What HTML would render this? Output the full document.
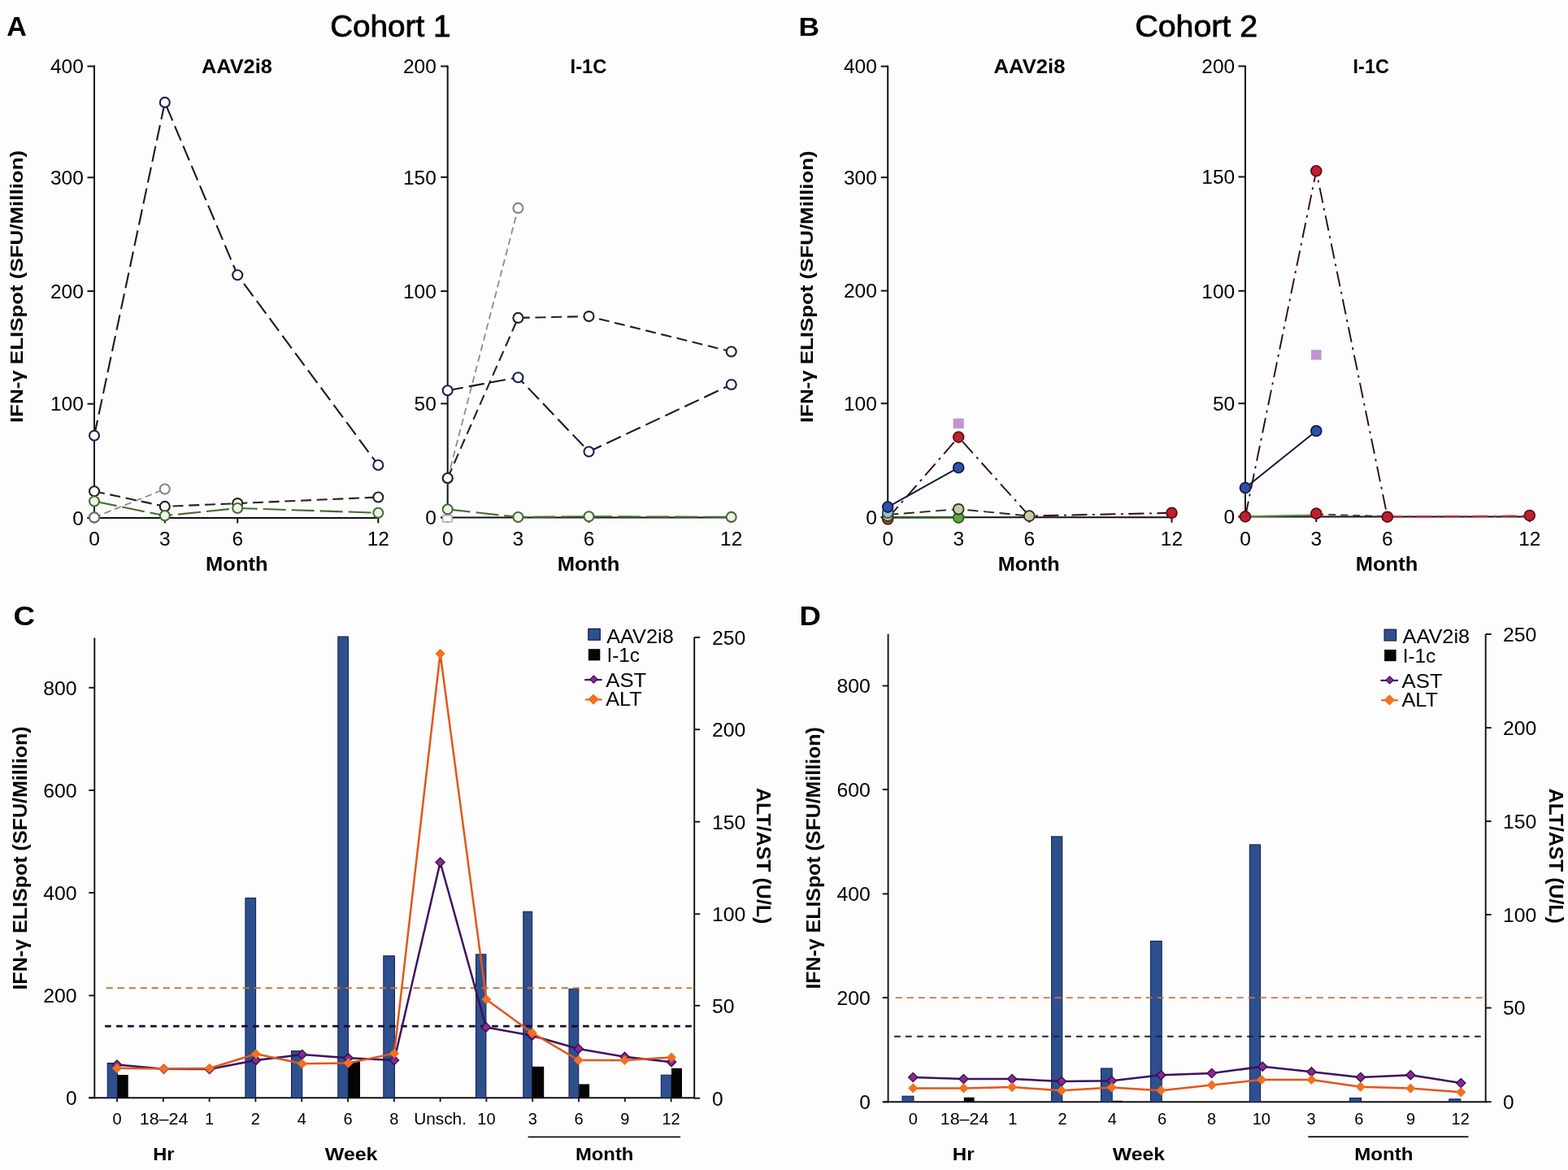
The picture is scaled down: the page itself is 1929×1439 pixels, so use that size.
<!DOCTYPE html>
<html><head><meta charset="utf-8"><title>Figure</title>
<style>
html,body{margin:0;padding:0;background:#fdfdfd;}
body{width:1929px;height:1439px;overflow:hidden;}
svg{display:block;}
svg text{font-family:'Liberation Sans', Arial, Helvetica, sans-serif;}
</style></head>
<body>
<svg width="1929" height="1439" viewBox="0 0 1929 1439">
<rect x="0" y="0" width="1929" height="1439" fill="#fdfdfd"/>
<text x="8.2" y="44" font-size="33" font-weight="bold" textLength="24.6" lengthAdjust="spacingAndGlyphs" fill="#000">A</text>
<text x="406.2" y="44.6" font-size="36.5" textLength="148.2" lengthAdjust="spacingAndGlyphs" fill="#000" stroke="#000" stroke-width="0.8">Cohort 1</text>
<text x="982.4" y="43.6" font-size="32" font-weight="bold" textLength="25.6" lengthAdjust="spacingAndGlyphs" fill="#000">B</text>
<text x="1396.4" y="44.6" font-size="36.5" textLength="150.6" lengthAdjust="spacingAndGlyphs" fill="#000" stroke="#000" stroke-width="0.8">Cohort 2</text>
<text x="16.4" y="768.9" font-size="33" font-weight="bold" textLength="26.6" lengthAdjust="spacingAndGlyphs" fill="#000">C</text>
<text x="983.4" y="768.9" font-size="33" font-weight="bold" textLength="26.4" lengthAdjust="spacingAndGlyphs" fill="#000">D</text>
<line x1="116" y1="80.5" x2="116" y2="637.9" stroke="#111" stroke-width="2" stroke-linecap="butt"/>
<line x1="107.5" y1="636.9" x2="116" y2="636.9" stroke="#111" stroke-width="2" stroke-linecap="butt"/>
<text x="102.8" y="645.65" font-size="24.5" text-anchor="end" fill="#000">0</text>
<line x1="107.5" y1="496.7" x2="116" y2="496.7" stroke="#111" stroke-width="2" stroke-linecap="butt"/>
<text x="102.8" y="505.45" font-size="24.5" text-anchor="end" fill="#000">100</text>
<line x1="107.5" y1="358.1" x2="116" y2="358.1" stroke="#111" stroke-width="2" stroke-linecap="butt"/>
<text x="102.8" y="366.85" font-size="24.5" text-anchor="end" fill="#000">200</text>
<line x1="107.5" y1="218.3" x2="116" y2="218.3" stroke="#111" stroke-width="2" stroke-linecap="butt"/>
<text x="102.8" y="227.05" font-size="24.5" text-anchor="end" fill="#000">300</text>
<line x1="107.5" y1="81.5" x2="116" y2="81.5" stroke="#111" stroke-width="2" stroke-linecap="butt"/>
<text x="102.8" y="90.25" font-size="24.5" text-anchor="end" fill="#000">400</text>
<line x1="107.5" y1="636.9" x2="466.3" y2="636.9" stroke="#111" stroke-width="2" stroke-linecap="butt"/>
<line x1="116" y1="636.9" x2="116" y2="643.4" stroke="#111" stroke-width="2" stroke-linecap="butt"/>
<line x1="202.8" y1="636.9" x2="202.8" y2="643.4" stroke="#111" stroke-width="2" stroke-linecap="butt"/>
<line x1="292.2" y1="636.9" x2="292.2" y2="643.4" stroke="#111" stroke-width="2" stroke-linecap="butt"/>
<line x1="465.3" y1="636.9" x2="465.3" y2="643.4" stroke="#111" stroke-width="2" stroke-linecap="butt"/>
<text x="116" y="670.6" font-size="24.5" text-anchor="middle" fill="#000">0</text>
<text x="202.8" y="670.6" font-size="24.5" text-anchor="middle" fill="#000">3</text>
<text x="292.2" y="670.6" font-size="24.5" text-anchor="middle" fill="#000">6</text>
<text x="465.3" y="670.6" font-size="24.5" text-anchor="middle" fill="#000">12</text>
<text x="291.3" y="702" font-size="23" font-weight="bold" text-anchor="middle" textLength="76.4" lengthAdjust="spacingAndGlyphs" fill="#000">Month</text>
<text x="291.35" y="90" font-size="23.5" font-weight="bold" text-anchor="middle" textLength="86.9" lengthAdjust="spacingAndGlyphs" fill="#000">AAV2i8</text>
<line x1="550.7" y1="80.5" x2="550.7" y2="637.5" stroke="#111" stroke-width="2" stroke-linecap="butt"/>
<line x1="542.2" y1="636.5" x2="550.7" y2="636.5" stroke="#111" stroke-width="2" stroke-linecap="butt"/>
<text x="536.8" y="645.25" font-size="24.5" text-anchor="end" fill="#000">0</text>
<line x1="542.2" y1="496.4" x2="550.7" y2="496.4" stroke="#111" stroke-width="2" stroke-linecap="butt"/>
<text x="536.8" y="505.15" font-size="24.5" text-anchor="end" fill="#000">50</text>
<line x1="542.2" y1="358.1" x2="550.7" y2="358.1" stroke="#111" stroke-width="2" stroke-linecap="butt"/>
<text x="536.8" y="366.85" font-size="24.5" text-anchor="end" fill="#000">100</text>
<line x1="542.2" y1="217.9" x2="550.7" y2="217.9" stroke="#111" stroke-width="2" stroke-linecap="butt"/>
<text x="536.8" y="226.65" font-size="24.5" text-anchor="end" fill="#000">150</text>
<line x1="542.2" y1="81.5" x2="550.7" y2="81.5" stroke="#111" stroke-width="2" stroke-linecap="butt"/>
<text x="536.8" y="90.25" font-size="24.5" text-anchor="end" fill="#000">200</text>
<line x1="542.2" y1="636.5" x2="900.7" y2="636.5" stroke="#111" stroke-width="2" stroke-linecap="butt"/>
<line x1="550.7" y1="636.5" x2="550.7" y2="643" stroke="#111" stroke-width="2" stroke-linecap="butt"/>
<line x1="637.4" y1="636.5" x2="637.4" y2="643" stroke="#111" stroke-width="2" stroke-linecap="butt"/>
<line x1="724.5" y1="636.5" x2="724.5" y2="643" stroke="#111" stroke-width="2" stroke-linecap="butt"/>
<line x1="899.7" y1="636.5" x2="899.7" y2="643" stroke="#111" stroke-width="2" stroke-linecap="butt"/>
<text x="550.7" y="670.6" font-size="24.5" text-anchor="middle" fill="#000">0</text>
<text x="637.4" y="670.6" font-size="24.5" text-anchor="middle" fill="#000">3</text>
<text x="724.5" y="670.6" font-size="24.5" text-anchor="middle" fill="#000">6</text>
<text x="899.7" y="670.6" font-size="24.5" text-anchor="middle" fill="#000">12</text>
<text x="724.05" y="702" font-size="23" font-weight="bold" text-anchor="middle" textLength="76.7" lengthAdjust="spacingAndGlyphs" fill="#000">Month</text>
<text x="724" y="90" font-size="23.5" font-weight="bold" text-anchor="middle" textLength="44.8" lengthAdjust="spacingAndGlyphs" fill="#000">I-1C</text>
<line x1="1092.2" y1="80.6" x2="1092.2" y2="637.2" stroke="#111" stroke-width="2" stroke-linecap="butt"/>
<line x1="1083.7" y1="636.2" x2="1092.2" y2="636.2" stroke="#111" stroke-width="2" stroke-linecap="butt"/>
<text x="1078.8" y="644.95" font-size="24.5" text-anchor="end" fill="#000">0</text>
<line x1="1083.7" y1="496.2" x2="1092.2" y2="496.2" stroke="#111" stroke-width="2" stroke-linecap="butt"/>
<text x="1078.8" y="504.95" font-size="24.5" text-anchor="end" fill="#000">100</text>
<line x1="1083.7" y1="357.6" x2="1092.2" y2="357.6" stroke="#111" stroke-width="2" stroke-linecap="butt"/>
<text x="1078.8" y="366.35" font-size="24.5" text-anchor="end" fill="#000">200</text>
<line x1="1083.7" y1="218.2" x2="1092.2" y2="218.2" stroke="#111" stroke-width="2" stroke-linecap="butt"/>
<text x="1078.8" y="226.95" font-size="24.5" text-anchor="end" fill="#000">300</text>
<line x1="1083.7" y1="81.6" x2="1092.2" y2="81.6" stroke="#111" stroke-width="2" stroke-linecap="butt"/>
<text x="1078.8" y="90.35" font-size="24.5" text-anchor="end" fill="#000">400</text>
<line x1="1083.7" y1="636.2" x2="1442.5" y2="636.2" stroke="#111" stroke-width="2" stroke-linecap="butt"/>
<line x1="1092.2" y1="636.2" x2="1092.2" y2="642.7" stroke="#111" stroke-width="2" stroke-linecap="butt"/>
<line x1="1179.2" y1="636.2" x2="1179.2" y2="642.7" stroke="#111" stroke-width="2" stroke-linecap="butt"/>
<line x1="1266.3" y1="636.2" x2="1266.3" y2="642.7" stroke="#111" stroke-width="2" stroke-linecap="butt"/>
<line x1="1441.5" y1="636.2" x2="1441.5" y2="642.7" stroke="#111" stroke-width="2" stroke-linecap="butt"/>
<text x="1092.2" y="670.6" font-size="24.5" text-anchor="middle" fill="#000">0</text>
<text x="1179.2" y="670.6" font-size="24.5" text-anchor="middle" fill="#000">3</text>
<text x="1266.3" y="670.6" font-size="24.5" text-anchor="middle" fill="#000">6</text>
<text x="1441.5" y="670.6" font-size="24.5" text-anchor="middle" fill="#000">12</text>
<text x="1265.7" y="702" font-size="23" font-weight="bold" text-anchor="middle" textLength="75.8" lengthAdjust="spacingAndGlyphs" fill="#000">Month</text>
<text x="1266.5" y="90" font-size="23.5" font-weight="bold" text-anchor="middle" textLength="87.8" lengthAdjust="spacingAndGlyphs" fill="#000">AAV2i8</text>
<line x1="1532" y1="80.4" x2="1532" y2="636.6" stroke="#111" stroke-width="2" stroke-linecap="butt"/>
<line x1="1523.5" y1="635.6" x2="1532" y2="635.6" stroke="#111" stroke-width="2" stroke-linecap="butt"/>
<text x="1519.2" y="644.35" font-size="24.5" text-anchor="end" fill="#000">0</text>
<line x1="1523.5" y1="496.2" x2="1532" y2="496.2" stroke="#111" stroke-width="2" stroke-linecap="butt"/>
<text x="1519.2" y="504.95" font-size="24.5" text-anchor="end" fill="#000">50</text>
<line x1="1523.5" y1="357.8" x2="1532" y2="357.8" stroke="#111" stroke-width="2" stroke-linecap="butt"/>
<text x="1519.2" y="366.55" font-size="24.5" text-anchor="end" fill="#000">100</text>
<line x1="1523.5" y1="217.5" x2="1532" y2="217.5" stroke="#111" stroke-width="2" stroke-linecap="butt"/>
<text x="1519.2" y="226.25" font-size="24.5" text-anchor="end" fill="#000">150</text>
<line x1="1523.5" y1="81.4" x2="1532" y2="81.4" stroke="#111" stroke-width="2" stroke-linecap="butt"/>
<text x="1519.2" y="90.15" font-size="24.5" text-anchor="end" fill="#000">200</text>
<line x1="1523.5" y1="635.6" x2="1882.8" y2="635.6" stroke="#111" stroke-width="2" stroke-linecap="butt"/>
<line x1="1532" y1="635.6" x2="1532" y2="642.1" stroke="#111" stroke-width="2" stroke-linecap="butt"/>
<line x1="1619.3" y1="635.6" x2="1619.3" y2="642.1" stroke="#111" stroke-width="2" stroke-linecap="butt"/>
<line x1="1706.8" y1="635.6" x2="1706.8" y2="642.1" stroke="#111" stroke-width="2" stroke-linecap="butt"/>
<line x1="1881.8" y1="635.6" x2="1881.8" y2="642.1" stroke="#111" stroke-width="2" stroke-linecap="butt"/>
<text x="1532" y="670.6" font-size="24.5" text-anchor="middle" fill="#000">0</text>
<text x="1619.3" y="670.6" font-size="24.5" text-anchor="middle" fill="#000">3</text>
<text x="1706.8" y="670.6" font-size="24.5" text-anchor="middle" fill="#000">6</text>
<text x="1881.8" y="670.6" font-size="24.5" text-anchor="middle" fill="#000">12</text>
<text x="1706" y="702" font-size="23" font-weight="bold" text-anchor="middle" textLength="76.4" lengthAdjust="spacingAndGlyphs" fill="#000">Month</text>
<text x="1686.75" y="90" font-size="23.5" font-weight="bold" text-anchor="middle" textLength="44.3" lengthAdjust="spacingAndGlyphs" fill="#000">I-1C</text>
<text x="27.9" y="352.5" font-size="22" font-weight="bold" text-anchor="middle" textLength="335.2" lengthAdjust="spacingAndGlyphs" transform="rotate(-90 27.9 352.5)" fill="#000">IFN-γ ELISpot (SFU/Million)</text>
<text x="1000.4" y="352.75" font-size="22" font-weight="bold" text-anchor="middle" textLength="334.7" lengthAdjust="spacingAndGlyphs" transform="rotate(-90 1000.4 352.75)" fill="#000">IFN-γ ELISpot (SFU/Million)</text>
<polyline points="116,636.4 202.8,601.5" fill="none" stroke="#8c8c8c" stroke-width="1.8" stroke-dasharray="8.5 5" stroke-linejoin="round"/>
<circle cx="116" cy="636.4" r="6" fill="#fff" stroke="#858585" stroke-width="2.1"/>
<circle cx="202.8" cy="601.5" r="6" fill="#fff" stroke="#858585" stroke-width="2.1"/>
<circle cx="116" cy="636.4" r="6" fill="#fff" stroke="#6c6a76" stroke-width="2.1"/>
<polyline points="116,604.2 202.8,622.9 292.2,619.1 465.3,611.5" fill="none" stroke="#23231a" stroke-width="2.1" stroke-dasharray="13 6.7" stroke-linejoin="round"/>
<circle cx="116" cy="604.2" r="6" fill="#fff" stroke="#23231a" stroke-width="2.1"/>
<circle cx="202.8" cy="622.9" r="6" fill="#fff" stroke="#23231a" stroke-width="2.1"/>
<circle cx="292.2" cy="619.1" r="6" fill="#fff" stroke="#23231a" stroke-width="2.1"/>
<circle cx="465.3" cy="611.5" r="6" fill="#fff" stroke="#23231a" stroke-width="2.1"/>
<polyline points="116,616.5 202.8,634.3 292.2,625 465.3,630.8" fill="none" stroke="#466c34" stroke-width="2.1" stroke-dasharray="28 7" stroke-linejoin="round"/>
<circle cx="116" cy="616.5" r="6" fill="#eef6e8" stroke="#466c34" stroke-width="2.1"/>
<circle cx="202.8" cy="634.3" r="6" fill="#eef6e8" stroke="#466c34" stroke-width="2.1"/>
<circle cx="292.2" cy="625" r="6" fill="#eef6e8" stroke="#466c34" stroke-width="2.1"/>
<circle cx="465.3" cy="630.8" r="6" fill="#eef6e8" stroke="#466c34" stroke-width="2.1"/>
<polyline points="116,535.7 202.8,125.9 292.2,338.3 465.3,572" fill="none" stroke="#14182e" stroke-width="2.1" stroke-dasharray="19.3 7.2" stroke-linejoin="round"/>
<circle cx="116" cy="535.7" r="6" fill="#fff" stroke="#18204a" stroke-width="2.1"/>
<circle cx="202.8" cy="125.9" r="6" fill="#fff" stroke="#18204a" stroke-width="2.1"/>
<circle cx="292.2" cy="338.3" r="6" fill="#fff" stroke="#18204a" stroke-width="2.1"/>
<circle cx="465.3" cy="572" r="6" fill="#fff" stroke="#18204a" stroke-width="2.1"/>
<polyline points="550.7,588.5 637.4,255.9" fill="none" stroke="#8c8c8c" stroke-width="1.8" stroke-dasharray="8.5 5" stroke-linejoin="round"/>
<circle cx="550.7" cy="588.5" r="6" fill="#fff" stroke="#858585" stroke-width="2.1"/>
<circle cx="637.4" cy="255.9" r="6" fill="#fff" stroke="#858585" stroke-width="2.1"/>
<polyline points="550.7,626.4 637.4,636 724.5,635.2 899.7,635.9" fill="none" stroke="#466c34" stroke-width="2.1" stroke-dasharray="28 7" stroke-linejoin="round"/>
<circle cx="550.7" cy="626.4" r="6" fill="#eef6e8" stroke="#466c34" stroke-width="2.1"/>
<circle cx="637.4" cy="636" r="6" fill="#eef6e8" stroke="#466c34" stroke-width="2.1"/>
<circle cx="724.5" cy="635.2" r="6" fill="#eef6e8" stroke="#466c34" stroke-width="2.1"/>
<circle cx="899.7" cy="635.9" r="6" fill="#eef6e8" stroke="#466c34" stroke-width="2.1"/>
<polyline points="550.7,588 637.4,390.9 724.5,389.1 899.7,432.5" fill="none" stroke="#23231a" stroke-width="2.1" stroke-dasharray="13 6.7" stroke-linejoin="round"/>
<circle cx="550.7" cy="588" r="6" fill="#fff" stroke="#23231a" stroke-width="2.1"/>
<circle cx="637.4" cy="390.9" r="6" fill="#fff" stroke="#23231a" stroke-width="2.1"/>
<circle cx="724.5" cy="389.1" r="6" fill="#fff" stroke="#23231a" stroke-width="2.1"/>
<circle cx="899.7" cy="432.5" r="6" fill="#fff" stroke="#23231a" stroke-width="2.1"/>
<polyline points="550.7,480.2 637.4,464.2 724.5,555.5 899.7,473" fill="none" stroke="#14182e" stroke-width="2.1" stroke-dasharray="19.3 7.2" stroke-linejoin="round"/>
<circle cx="550.7" cy="480.2" r="6" fill="#fff" stroke="#18204a" stroke-width="2.1"/>
<circle cx="637.4" cy="464.2" r="6" fill="#fff" stroke="#18204a" stroke-width="2.1"/>
<circle cx="724.5" cy="555.5" r="6" fill="#fff" stroke="#18204a" stroke-width="2.1"/>
<circle cx="899.7" cy="473" r="6" fill="#fff" stroke="#18204a" stroke-width="2.1"/>
<rect x="544.8" y="633.9" width="11.2" height="8" fill="#fff" stroke="#b8a4d4" stroke-width="1.6"/>
<polyline points="1092.2,636.8 1179.2,636.6" fill="none" stroke="#2b5a1e" stroke-width="2" stroke-linejoin="round"/>
<polyline points="1092.2,633 1179.2,626.2 1266.3,634.6" fill="none" stroke="#2b2b1b" stroke-width="1.9" stroke-dasharray="13 6.7" stroke-linejoin="round"/>
<polyline points="1092.2,637.5 1179.2,537.6 1266.3,634.6 1441.5,630.8" fill="none" stroke="#300a14" stroke-width="1.9" stroke-dasharray="19 6.5 3 6.5" stroke-linejoin="round"/>
<polyline points="1092.2,623.6 1179.2,575.2" fill="none" stroke="#141a3a" stroke-width="2" stroke-linejoin="round"/>
<circle cx="1441.5" cy="630.8" r="6.4" fill="#c0202e" stroke="#5c0e18" stroke-width="1.8"/>
<circle cx="1092.2" cy="638.5" r="6.4" fill="#8a4a30" stroke="#4a2a18" stroke-width="1.8"/>
<circle cx="1092.2" cy="634.5" r="6.4" fill="#cbbf9a" stroke="#3a3a22" stroke-width="1.8"/>
<circle cx="1092.2" cy="630.5" r="6.4" fill="#9cc4cc" stroke="#3a4a52" stroke-width="1.8"/>
<circle cx="1092.2" cy="623.6" r="6.4" fill="#2c52aa" stroke="#121a44" stroke-width="1.8"/>
<circle cx="1179.2" cy="636.6" r="6.4" fill="#5ea444" stroke="#2b5a1e" stroke-width="1.8"/>
<circle cx="1179.2" cy="626.2" r="6.4" fill="#c9c9a6" stroke="#2b2b1b" stroke-width="1.8"/>
<circle cx="1266.3" cy="634.6" r="6.4" fill="#c9c9a6" stroke="#2b2b1b" stroke-width="1.8"/>
<circle cx="1179.2" cy="575.2" r="6.4" fill="#2c52aa" stroke="#121a44" stroke-width="1.8"/>
<circle cx="1179.2" cy="537.6" r="6.4" fill="#c0202e" stroke="#5c0e18" stroke-width="1.8"/>
<rect x="1172.7" y="514.7" width="13" height="12.2" fill="#c392d2"/>
<polyline points="1532,635.2 1619.3,633.6" fill="none" stroke="#5b8a3c" stroke-width="2" stroke-linejoin="round"/>
<polyline points="1619.3,632.4 1706.8,635.2" fill="none" stroke="#3a3a30" stroke-width="1.9" stroke-dasharray="9 6" stroke-linejoin="round"/>
<polyline points="1706.8,635.6 1881.8,634.6" fill="none" stroke="#c42a34" stroke-width="2.2" stroke-dasharray="19 6.5 3 6.5" stroke-linejoin="round"/>
<polyline points="1532,635.4 1619.3,210.3 1706.8,635.4" fill="none" stroke="#300a14" stroke-width="1.9" stroke-dasharray="19 6.5 3 6.5" stroke-linejoin="round"/>
<polyline points="1532,600 1619.3,530" fill="none" stroke="#141a3a" stroke-width="2" stroke-linejoin="round"/>
<circle cx="1532" cy="600" r="6.4" fill="#2c52aa" stroke="#121a44" stroke-width="1.8"/>
<circle cx="1619.3" cy="530" r="6.4" fill="#2c52aa" stroke="#121a44" stroke-width="1.8"/>
<circle cx="1532" cy="635.4" r="6.4" fill="#c0202e" stroke="#5c0e18" stroke-width="1.8"/>
<circle cx="1619.3" cy="631.6" r="6.4" fill="#c0202e" stroke="#5c0e18" stroke-width="1.8"/>
<circle cx="1706.8" cy="635.7" r="6.4" fill="#c0202e" stroke="#5c0e18" stroke-width="1.8"/>
<circle cx="1881.8" cy="634" r="6.4" fill="#c0202e" stroke="#5c0e18" stroke-width="1.8"/>
<circle cx="1619.3" cy="210.3" r="6.4" fill="#c0202e" stroke="#5c0e18" stroke-width="1.8"/>
<rect x="1613" y="430.3" width="12.6" height="12.2" fill="#c392d2"/>
<line x1="116.3" y1="784.5" x2="116.3" y2="1351.2" stroke="#111" stroke-width="1.9" stroke-linecap="butt"/>
<line x1="109.3" y1="1350.2" x2="116.3" y2="1350.2" stroke="#111" stroke-width="1.9" stroke-linecap="butt"/>
<text x="94.6" y="1359" font-size="24.5" text-anchor="end" fill="#000">0</text>
<line x1="109.3" y1="1224.4" x2="116.3" y2="1224.4" stroke="#111" stroke-width="1.9" stroke-linecap="butt"/>
<text x="94.6" y="1233.2" font-size="24.5" text-anchor="end" textLength="41.4" lengthAdjust="spacingAndGlyphs" fill="#000">200</text>
<line x1="109.3" y1="1098" x2="116.3" y2="1098" stroke="#111" stroke-width="1.9" stroke-linecap="butt"/>
<text x="94.6" y="1106.8" font-size="24.5" text-anchor="end" textLength="41.4" lengthAdjust="spacingAndGlyphs" fill="#000">400</text>
<line x1="109.3" y1="972" x2="116.3" y2="972" stroke="#111" stroke-width="1.9" stroke-linecap="butt"/>
<text x="94.6" y="980.8" font-size="24.5" text-anchor="end" textLength="41.4" lengthAdjust="spacingAndGlyphs" fill="#000">600</text>
<line x1="109.3" y1="845.8" x2="116.3" y2="845.8" stroke="#111" stroke-width="1.9" stroke-linecap="butt"/>
<text x="94.6" y="854.6" font-size="24.5" text-anchor="end" textLength="41.4" lengthAdjust="spacingAndGlyphs" fill="#000">800</text>
<line x1="854.2" y1="783.9" x2="854.2" y2="1351.2" stroke="#111" stroke-width="1.9" stroke-linecap="butt"/>
<line x1="854.2" y1="1350.7" x2="861.2" y2="1350.7" stroke="#111" stroke-width="1.9" stroke-linecap="butt"/>
<text x="876" y="1359.5" font-size="24.5" fill="#000">0</text>
<line x1="854.2" y1="1236.8" x2="861.2" y2="1236.8" stroke="#111" stroke-width="1.9" stroke-linecap="butt"/>
<text x="876" y="1245.6" font-size="24.5" textLength="27.6" lengthAdjust="spacingAndGlyphs" fill="#000">50</text>
<line x1="854.2" y1="1124.2" x2="861.2" y2="1124.2" stroke="#111" stroke-width="1.9" stroke-linecap="butt"/>
<text x="876" y="1133" font-size="24.5" textLength="41.4" lengthAdjust="spacingAndGlyphs" fill="#000">100</text>
<line x1="854.2" y1="1010.7" x2="861.2" y2="1010.7" stroke="#111" stroke-width="1.9" stroke-linecap="butt"/>
<text x="876" y="1019.5" font-size="24.5" textLength="41.4" lengthAdjust="spacingAndGlyphs" fill="#000">150</text>
<line x1="854.2" y1="897.2" x2="861.2" y2="897.2" stroke="#111" stroke-width="1.9" stroke-linecap="butt"/>
<text x="876" y="906" font-size="24.5" textLength="41.4" lengthAdjust="spacingAndGlyphs" fill="#000">200</text>
<line x1="854.2" y1="783.9" x2="861.2" y2="783.9" stroke="#111" stroke-width="1.9" stroke-linecap="butt"/>
<text x="876" y="792.7" font-size="24.5" textLength="41.4" lengthAdjust="spacingAndGlyphs" fill="#000">250</text>
<line x1="109" y1="1350.2" x2="854.2" y2="1350.2" stroke="#111" stroke-width="1.9" stroke-linecap="butt"/>
<line x1="144" y1="1350.2" x2="144" y2="1355.2" stroke="#111" stroke-width="1.8" stroke-linecap="butt"/>
<line x1="200.8" y1="1350.2" x2="200.8" y2="1355.2" stroke="#111" stroke-width="1.8" stroke-linecap="butt"/>
<line x1="257.6" y1="1350.2" x2="257.6" y2="1355.2" stroke="#111" stroke-width="1.8" stroke-linecap="butt"/>
<line x1="314.4" y1="1350.2" x2="314.4" y2="1355.2" stroke="#111" stroke-width="1.8" stroke-linecap="butt"/>
<line x1="371.2" y1="1350.2" x2="371.2" y2="1355.2" stroke="#111" stroke-width="1.8" stroke-linecap="butt"/>
<line x1="428" y1="1350.2" x2="428" y2="1355.2" stroke="#111" stroke-width="1.8" stroke-linecap="butt"/>
<line x1="484.8" y1="1350.2" x2="484.8" y2="1355.2" stroke="#111" stroke-width="1.8" stroke-linecap="butt"/>
<line x1="541.6" y1="1350.2" x2="541.6" y2="1355.2" stroke="#111" stroke-width="1.8" stroke-linecap="butt"/>
<line x1="598.4" y1="1350.2" x2="598.4" y2="1355.2" stroke="#111" stroke-width="1.8" stroke-linecap="butt"/>
<line x1="655.2" y1="1350.2" x2="655.2" y2="1355.2" stroke="#111" stroke-width="1.8" stroke-linecap="butt"/>
<line x1="712" y1="1350.2" x2="712" y2="1355.2" stroke="#111" stroke-width="1.8" stroke-linecap="butt"/>
<line x1="768.8" y1="1350.2" x2="768.8" y2="1355.2" stroke="#111" stroke-width="1.8" stroke-linecap="butt"/>
<line x1="825.6" y1="1350.2" x2="825.6" y2="1355.2" stroke="#111" stroke-width="1.8" stroke-linecap="butt"/>
<text x="144" y="1382.6" font-size="20" text-anchor="middle" fill="#000">0</text>
<text x="201.6" y="1382.6" font-size="20" text-anchor="middle" textLength="59.8" lengthAdjust="spacingAndGlyphs" fill="#000">18–24</text>
<text x="257.6" y="1382.6" font-size="20" text-anchor="middle" fill="#000">1</text>
<text x="314.4" y="1382.6" font-size="20" text-anchor="middle" fill="#000">2</text>
<text x="371.2" y="1382.6" font-size="20" text-anchor="middle" fill="#000">4</text>
<text x="428" y="1382.6" font-size="20" text-anchor="middle" fill="#000">6</text>
<text x="484.8" y="1382.6" font-size="20" text-anchor="middle" fill="#000">8</text>
<text x="541.6" y="1382.6" font-size="20" text-anchor="middle" textLength="64.8" lengthAdjust="spacingAndGlyphs" fill="#000">Unsch.</text>
<text x="598.4" y="1382.6" font-size="20" text-anchor="middle" fill="#000">10</text>
<text x="655.2" y="1382.6" font-size="20" text-anchor="middle" fill="#000">3</text>
<text x="712" y="1382.6" font-size="20" text-anchor="middle" fill="#000">6</text>
<text x="768.8" y="1382.6" font-size="20" text-anchor="middle" fill="#000">9</text>
<text x="825.6" y="1382.6" font-size="20" text-anchor="middle" fill="#000">12</text>
<text x="201.35" y="1427" font-size="22.5" font-weight="bold" text-anchor="middle" textLength="26.3" lengthAdjust="spacingAndGlyphs" fill="#000">Hr</text>
<text x="432.15" y="1427" font-size="22.5" font-weight="bold" text-anchor="middle" textLength="64.7" lengthAdjust="spacingAndGlyphs" fill="#000">Week</text>
<text x="743.65" y="1427" font-size="22.5" font-weight="bold" text-anchor="middle" textLength="71.5" lengthAdjust="spacingAndGlyphs" fill="#000">Month</text>
<line x1="649.6" y1="1398.4" x2="837" y2="1398.4" stroke="#111" stroke-width="1.7" stroke-linecap="butt"/>
<rect x="132.2" y="1307.5" width="12.2" height="42.7" fill="#2e4f8e" stroke="#0e1c46" stroke-width="1"/>
<rect x="144.4" y="1322" width="13.3" height="28.2" fill="#050505"/>
<rect x="301.9" y="1104.5" width="12.7" height="245.7" fill="#2e4f8e" stroke="#0e1c46" stroke-width="1"/>
<rect x="358.5" y="1292.6" width="13.3" height="57.6" fill="#2e4f8e" stroke="#0e1c46" stroke-width="1"/>
<rect x="415.8" y="783" width="12.6" height="567.2" fill="#2e4f8e" stroke="#0e1c46" stroke-width="1"/>
<rect x="428.4" y="1305.6" width="14.6" height="44.6" fill="#050505"/>
<rect x="471.8" y="1175.7" width="13.6" height="174.5" fill="#2e4f8e" stroke="#0e1c46" stroke-width="1"/>
<rect x="585.5" y="1173.8" width="12.4" height="176.4" fill="#2e4f8e" stroke="#0e1c46" stroke-width="1"/>
<rect x="643.8" y="1121.2" width="10.8" height="229" fill="#2e4f8e" stroke="#0e1c46" stroke-width="1"/>
<rect x="654.6" y="1311.8" width="14.6" height="38.4" fill="#050505"/>
<rect x="700" y="1216.3" width="11.8" height="133.9" fill="#2e4f8e" stroke="#0e1c46" stroke-width="1"/>
<rect x="712.2" y="1333.4" width="12.9" height="16.8" fill="#050505"/>
<rect x="813.3" y="1322.2" width="12.7" height="28" fill="#2e4f8e" stroke="#0e1c46" stroke-width="1"/>
<rect x="826" y="1313.8" width="13" height="36.4" fill="#050505"/>
<line x1="130.7" y1="1215.3" x2="851" y2="1215.3" stroke="#c4782e" stroke-width="1.9" stroke-dasharray="8.1 5.9" stroke-linecap="butt"/>
<line x1="129.1" y1="1262.2" x2="851" y2="1262.2" stroke="#180c2c" stroke-width="2.8" stroke-dasharray="7.6 6.4" stroke-linecap="butt"/>
<polyline points="144,1309.5 201.6,1314.8 257.7,1315 315,1304 371.8,1297 428.6,1301.3 485,1304 541.6,1060.5 598,1263.4 654.6,1273.7 711.7,1290 768.5,1299.8 826,1306.2" fill="none" stroke="#3e1060" stroke-width="2.5" stroke-linejoin="round"/>
<polygon points="144,1303.9 149.6,1309.5 144,1315.1 138.4,1309.5" fill="#842a98" stroke="#3a0a44" stroke-width="1.3"/>
<polygon points="201.6,1309.2 207.2,1314.8 201.6,1320.4 196,1314.8" fill="#842a98" stroke="#3a0a44" stroke-width="1.3"/>
<polygon points="257.7,1309.4 263.3,1315 257.7,1320.6 252.1,1315" fill="#842a98" stroke="#3a0a44" stroke-width="1.3"/>
<polygon points="315,1298.4 320.6,1304 315,1309.6 309.4,1304" fill="#842a98" stroke="#3a0a44" stroke-width="1.3"/>
<polygon points="371.8,1291.4 377.4,1297 371.8,1302.6 366.2,1297" fill="#842a98" stroke="#3a0a44" stroke-width="1.3"/>
<polygon points="428.6,1295.7 434.2,1301.3 428.6,1306.9 423,1301.3" fill="#842a98" stroke="#3a0a44" stroke-width="1.3"/>
<polygon points="485,1298.4 490.6,1304 485,1309.6 479.4,1304" fill="#842a98" stroke="#3a0a44" stroke-width="1.3"/>
<polygon points="541.6,1054.9 547.2,1060.5 541.6,1066.1 536,1060.5" fill="#842a98" stroke="#3a0a44" stroke-width="1.3"/>
<polygon points="598,1257.8 603.6,1263.4 598,1269 592.4,1263.4" fill="#842a98" stroke="#3a0a44" stroke-width="1.3"/>
<polygon points="654.6,1268.1 660.2,1273.7 654.6,1279.3 649,1273.7" fill="#842a98" stroke="#3a0a44" stroke-width="1.3"/>
<polygon points="711.7,1284.4 717.3,1290 711.7,1295.6 706.1,1290" fill="#842a98" stroke="#3a0a44" stroke-width="1.3"/>
<polygon points="768.5,1294.2 774.1,1299.8 768.5,1305.4 762.9,1299.8" fill="#842a98" stroke="#3a0a44" stroke-width="1.3"/>
<polygon points="826,1300.6 831.6,1306.2 826,1311.8 820.4,1306.2" fill="#842a98" stroke="#3a0a44" stroke-width="1.3"/>
<polyline points="144,1313.8 201.6,1314.5 257.7,1314 315,1296.3 371.8,1308.3 428.6,1307.5 485,1295.6 541.6,803.9 598.3,1229.2 654.8,1270.4 711.7,1304 768.5,1304 826,1300.6" fill="none" stroke="#e2561a" stroke-width="2.5" stroke-linejoin="round"/>
<polygon points="144,1307.7 150.1,1313.8 144,1319.9 137.9,1313.8" fill="#f2701e"/>
<polygon points="201.6,1308.4 207.7,1314.5 201.6,1320.6 195.5,1314.5" fill="#f2701e"/>
<polygon points="257.7,1307.9 263.8,1314 257.7,1320.1 251.6,1314" fill="#f2701e"/>
<polygon points="315,1290.2 321.1,1296.3 315,1302.4 308.9,1296.3" fill="#f2701e"/>
<polygon points="371.8,1302.2 377.9,1308.3 371.8,1314.4 365.7,1308.3" fill="#f2701e"/>
<polygon points="428.6,1301.4 434.7,1307.5 428.6,1313.6 422.5,1307.5" fill="#f2701e"/>
<polygon points="485,1289.5 491.1,1295.6 485,1301.7 478.9,1295.6" fill="#f2701e"/>
<polygon points="541.6,797.8 547.7,803.9 541.6,810 535.5,803.9" fill="#f2701e"/>
<polygon points="598.3,1223.1 604.4,1229.2 598.3,1235.3 592.2,1229.2" fill="#f2701e"/>
<polygon points="654.8,1264.3 660.9,1270.4 654.8,1276.5 648.7,1270.4" fill="#f2701e"/>
<polygon points="711.7,1297.9 717.8,1304 711.7,1310.1 705.6,1304" fill="#f2701e"/>
<polygon points="768.5,1297.9 774.6,1304 768.5,1310.1 762.4,1304" fill="#f2701e"/>
<polygon points="826,1294.5 832.1,1300.6 826,1306.7 819.9,1300.6" fill="#f2701e"/>
<rect x="723.8" y="773.4" width="14.5" height="13.8" fill="#2e4f8e" stroke="#0e1c46" stroke-width="1.2"/>
<text x="746.2" y="790.6" font-size="24" textLength="82.6" lengthAdjust="spacingAndGlyphs" fill="#000">AAV2i8</text>
<rect x="723.8" y="798.2" width="14.5" height="14.2" fill="#050505"/>
<text x="746.4" y="813.9" font-size="24" textLength="40.6" lengthAdjust="spacingAndGlyphs" fill="#000">I-1c</text>
<line x1="719.2" y1="836.1" x2="740.6" y2="836.1" stroke="#3e1060" stroke-width="2.2" stroke-linecap="butt"/>
<polygon points="730.4,831 735,835.6 730.4,840.2 725.8,835.6" fill="#842a98" stroke="#3a0a44" stroke-width="1.1"/>
<text x="745.2" y="844.9" font-size="24" textLength="50.2" lengthAdjust="spacingAndGlyphs" fill="#000">AST</text>
<line x1="719.8" y1="860.5" x2="740.6" y2="860.5" stroke="#e2561a" stroke-width="2" stroke-linecap="butt"/>
<polygon points="730,853.4 736.7,860.1 730,866.8 723.3,860.1" fill="#f2701e"/>
<text x="745.2" y="868.2" font-size="24" textLength="44.5" lengthAdjust="spacingAndGlyphs" fill="#000">ALT</text>
<text x="931.3" y="1052.75" font-size="24.5" font-weight="bold" text-anchor="middle" textLength="167.3" lengthAdjust="spacingAndGlyphs" transform="rotate(90 931.3 1052.75)" fill="#000">ALT/AST (U/L)</text>
<line x1="1092.6" y1="779.8" x2="1092.6" y2="1356.3" stroke="#111" stroke-width="1.9" stroke-linecap="butt"/>
<line x1="1085.6" y1="1355.3" x2="1092.6" y2="1355.3" stroke="#111" stroke-width="1.9" stroke-linecap="butt"/>
<text x="1070.8" y="1364.1" font-size="24.5" text-anchor="end" fill="#000">0</text>
<line x1="1085.6" y1="1227" x2="1092.6" y2="1227" stroke="#111" stroke-width="1.9" stroke-linecap="butt"/>
<text x="1070.8" y="1235.8" font-size="24.5" text-anchor="end" textLength="41.4" lengthAdjust="spacingAndGlyphs" fill="#000">200</text>
<line x1="1085.6" y1="1099.4" x2="1092.6" y2="1099.4" stroke="#111" stroke-width="1.9" stroke-linecap="butt"/>
<text x="1070.8" y="1108.2" font-size="24.5" text-anchor="end" textLength="41.4" lengthAdjust="spacingAndGlyphs" fill="#000">400</text>
<line x1="1085.6" y1="971" x2="1092.6" y2="971" stroke="#111" stroke-width="1.9" stroke-linecap="butt"/>
<text x="1070.8" y="979.8" font-size="24.5" text-anchor="end" textLength="41.4" lengthAdjust="spacingAndGlyphs" fill="#000">600</text>
<line x1="1085.6" y1="843.5" x2="1092.6" y2="843.5" stroke="#111" stroke-width="1.9" stroke-linecap="butt"/>
<text x="1070.8" y="852.3" font-size="24.5" text-anchor="end" textLength="41.4" lengthAdjust="spacingAndGlyphs" fill="#000">800</text>
<line x1="1827.7" y1="780" x2="1827.7" y2="1356.3" stroke="#111" stroke-width="1.9" stroke-linecap="butt"/>
<line x1="1827.7" y1="1355.2" x2="1834.7" y2="1355.2" stroke="#111" stroke-width="1.9" stroke-linecap="butt"/>
<text x="1849" y="1364" font-size="24.5" fill="#000">0</text>
<line x1="1827.7" y1="1239.6" x2="1834.7" y2="1239.6" stroke="#111" stroke-width="1.9" stroke-linecap="butt"/>
<text x="1849" y="1248.4" font-size="24.5" textLength="27.6" lengthAdjust="spacingAndGlyphs" fill="#000">50</text>
<line x1="1827.7" y1="1124.9" x2="1834.7" y2="1124.9" stroke="#111" stroke-width="1.9" stroke-linecap="butt"/>
<text x="1849" y="1133.7" font-size="24.5" textLength="41.4" lengthAdjust="spacingAndGlyphs" fill="#000">100</text>
<line x1="1827.7" y1="1010.1" x2="1834.7" y2="1010.1" stroke="#111" stroke-width="1.9" stroke-linecap="butt"/>
<text x="1849" y="1018.9" font-size="24.5" textLength="41.4" lengthAdjust="spacingAndGlyphs" fill="#000">150</text>
<line x1="1827.7" y1="895.1" x2="1834.7" y2="895.1" stroke="#111" stroke-width="1.9" stroke-linecap="butt"/>
<text x="1849" y="903.9" font-size="24.5" textLength="41.4" lengthAdjust="spacingAndGlyphs" fill="#000">200</text>
<line x1="1827.7" y1="780" x2="1834.7" y2="780" stroke="#111" stroke-width="1.9" stroke-linecap="butt"/>
<text x="1849" y="788.8" font-size="24.5" textLength="41.4" lengthAdjust="spacingAndGlyphs" fill="#000">250</text>
<line x1="1087.3" y1="1355.3" x2="1827.7" y2="1355.3" stroke="#111" stroke-width="1.9" stroke-linecap="butt"/>
<text x="1123.4" y="1382.6" font-size="20" text-anchor="middle" fill="#000">0</text>
<text x="1186.6" y="1382.6" font-size="20" text-anchor="middle" textLength="59.8" lengthAdjust="spacingAndGlyphs" fill="#000">18–24</text>
<text x="1245.82" y="1382.6" font-size="20" text-anchor="middle" fill="#000">1</text>
<text x="1307.03" y="1382.6" font-size="20" text-anchor="middle" fill="#000">2</text>
<text x="1368.24" y="1382.6" font-size="20" text-anchor="middle" fill="#000">4</text>
<text x="1429.45" y="1382.6" font-size="20" text-anchor="middle" fill="#000">6</text>
<text x="1490.66" y="1382.6" font-size="20" text-anchor="middle" fill="#000">8</text>
<text x="1551.87" y="1382.6" font-size="20" text-anchor="middle" fill="#000">10</text>
<text x="1613.08" y="1382.6" font-size="20" text-anchor="middle" fill="#000">3</text>
<text x="1671.8" y="1382.6" font-size="20" text-anchor="middle" fill="#000">6</text>
<text x="1735.5" y="1382.6" font-size="20" text-anchor="middle" fill="#000">9</text>
<text x="1796.71" y="1382.6" font-size="20" text-anchor="middle" fill="#000">12</text>
<text x="1185.25" y="1427" font-size="22.5" font-weight="bold" text-anchor="middle" textLength="26.9" lengthAdjust="spacingAndGlyphs" fill="#000">Hr</text>
<text x="1400.9" y="1427" font-size="22.5" font-weight="bold" text-anchor="middle" textLength="64.2" lengthAdjust="spacingAndGlyphs" fill="#000">Week</text>
<text x="1702.35" y="1427" font-size="22.5" font-weight="bold" text-anchor="middle" textLength="72.3" lengthAdjust="spacingAndGlyphs" fill="#000">Month</text>
<line x1="1609.4" y1="1398.2" x2="1806.5" y2="1398.2" stroke="#111" stroke-width="1.7" stroke-linecap="butt"/>
<rect x="1110" y="1348.2" width="14" height="7.1" fill="#2e4f8e" stroke="#0e1c46" stroke-width="1"/>
<rect x="1185.8" y="1349.7" width="12.8" height="5.6" fill="#050505"/>
<rect x="1293.6" y="1028.9" width="13.2" height="326.4" fill="#2e4f8e" stroke="#0e1c46" stroke-width="1"/>
<rect x="1354.5" y="1314" width="13.7" height="41.3" fill="#2e4f8e" stroke="#0e1c46" stroke-width="1"/>
<rect x="1368.2" y="1353.8" width="12.8" height="1.5" fill="#050505"/>
<rect x="1415.4" y="1157.4" width="13.8" height="197.9" fill="#2e4f8e" stroke="#0e1c46" stroke-width="1"/>
<rect x="1537.3" y="1038.9" width="13.3" height="316.4" fill="#2e4f8e" stroke="#0e1c46" stroke-width="1"/>
<rect x="1660.6" y="1350.4" width="14" height="4.9" fill="#2e4f8e" stroke="#0e1c46" stroke-width="1"/>
<rect x="1782.8" y="1351.8" width="14" height="3.5" fill="#2e4f8e" stroke="#0e1c46" stroke-width="1"/>
<line x1="1101.7" y1="1227.2" x2="1825" y2="1227.2" stroke="#cc7448" stroke-width="1.7" stroke-dasharray="8.1 5.9" stroke-linecap="butt"/>
<line x1="1100.1" y1="1274.8" x2="1825" y2="1274.8" stroke="#222036" stroke-width="2" stroke-dasharray="7.6 6.4" stroke-linecap="butt"/>
<polyline points="1123.3,1325 1185.5,1327 1245.1,1327 1306,1330 1367.7,1329.3 1428.4,1322.3 1490.7,1320.1 1553.2,1311.7 1613.4,1318.3 1673.8,1324.9 1735.3,1322.2 1797.3,1332" fill="none" stroke="#3e1060" stroke-width="2.5" stroke-linejoin="round"/>
<polygon points="1123.3,1319.4 1128.9,1325 1123.3,1330.6 1117.7,1325" fill="#842a98" stroke="#3a0a44" stroke-width="1.3"/>
<polygon points="1185.5,1321.4 1191.1,1327 1185.5,1332.6 1179.9,1327" fill="#842a98" stroke="#3a0a44" stroke-width="1.3"/>
<polygon points="1245.1,1321.4 1250.7,1327 1245.1,1332.6 1239.5,1327" fill="#842a98" stroke="#3a0a44" stroke-width="1.3"/>
<polygon points="1306,1324.4 1311.6,1330 1306,1335.6 1300.4,1330" fill="#842a98" stroke="#3a0a44" stroke-width="1.3"/>
<polygon points="1367.7,1323.7 1373.3,1329.3 1367.7,1334.9 1362.1,1329.3" fill="#842a98" stroke="#3a0a44" stroke-width="1.3"/>
<polygon points="1428.4,1316.7 1434,1322.3 1428.4,1327.9 1422.8,1322.3" fill="#842a98" stroke="#3a0a44" stroke-width="1.3"/>
<polygon points="1490.7,1314.5 1496.3,1320.1 1490.7,1325.7 1485.1,1320.1" fill="#842a98" stroke="#3a0a44" stroke-width="1.3"/>
<polygon points="1553.2,1306.1 1558.8,1311.7 1553.2,1317.3 1547.6,1311.7" fill="#842a98" stroke="#3a0a44" stroke-width="1.3"/>
<polygon points="1613.4,1312.7 1619,1318.3 1613.4,1323.9 1607.8,1318.3" fill="#842a98" stroke="#3a0a44" stroke-width="1.3"/>
<polygon points="1673.8,1319.3 1679.4,1324.9 1673.8,1330.5 1668.2,1324.9" fill="#842a98" stroke="#3a0a44" stroke-width="1.3"/>
<polygon points="1735.3,1316.6 1740.9,1322.2 1735.3,1327.8 1729.7,1322.2" fill="#842a98" stroke="#3a0a44" stroke-width="1.3"/>
<polygon points="1797.3,1326.4 1802.9,1332 1797.3,1337.6 1791.7,1332" fill="#842a98" stroke="#3a0a44" stroke-width="1.3"/>
<polyline points="1123.3,1338.4 1185.5,1338.4 1245.1,1337.1 1306,1341.3 1367.7,1337.4 1428.4,1341.2 1490.7,1334.6 1552,1328 1613.4,1328 1673.8,1336.7 1735.3,1338.6 1797.3,1343.3" fill="none" stroke="#e2561a" stroke-width="2.5" stroke-linejoin="round"/>
<polygon points="1123.3,1332.3 1129.4,1338.4 1123.3,1344.5 1117.2,1338.4" fill="#f2701e"/>
<polygon points="1185.5,1332.3 1191.6,1338.4 1185.5,1344.5 1179.4,1338.4" fill="#f2701e"/>
<polygon points="1245.1,1331 1251.2,1337.1 1245.1,1343.2 1239,1337.1" fill="#f2701e"/>
<polygon points="1306,1335.2 1312.1,1341.3 1306,1347.4 1299.9,1341.3" fill="#f2701e"/>
<polygon points="1367.7,1331.3 1373.8,1337.4 1367.7,1343.5 1361.6,1337.4" fill="#f2701e"/>
<polygon points="1428.4,1335.1 1434.5,1341.2 1428.4,1347.3 1422.3,1341.2" fill="#f2701e"/>
<polygon points="1490.7,1328.5 1496.8,1334.6 1490.7,1340.7 1484.6,1334.6" fill="#f2701e"/>
<polygon points="1552,1321.9 1558.1,1328 1552,1334.1 1545.9,1328" fill="#f2701e"/>
<polygon points="1613.4,1321.9 1619.5,1328 1613.4,1334.1 1607.3,1328" fill="#f2701e"/>
<polygon points="1673.8,1330.6 1679.9,1336.7 1673.8,1342.8 1667.7,1336.7" fill="#f2701e"/>
<polygon points="1735.3,1332.5 1741.4,1338.6 1735.3,1344.7 1729.2,1338.6" fill="#f2701e"/>
<polygon points="1797.3,1337.2 1803.4,1343.3 1797.3,1349.4 1791.2,1343.3" fill="#f2701e"/>
<rect x="1703.1" y="774.2" width="14.5" height="13.8" fill="#2e4f8e" stroke="#0e1c46" stroke-width="1.2"/>
<text x="1725.5" y="791.4" font-size="24" textLength="82.6" lengthAdjust="spacingAndGlyphs" fill="#000">AAV2i8</text>
<rect x="1703.1" y="799" width="14.5" height="14.2" fill="#050505"/>
<text x="1725.7" y="814.7" font-size="24" textLength="40.6" lengthAdjust="spacingAndGlyphs" fill="#000">I-1c</text>
<line x1="1698.5" y1="836.9" x2="1719.9" y2="836.9" stroke="#3e1060" stroke-width="2.2" stroke-linecap="butt"/>
<polygon points="1709.7,831.8 1714.3,836.4 1709.7,841 1705.1,836.4" fill="#842a98" stroke="#3a0a44" stroke-width="1.1"/>
<text x="1724.5" y="845.7" font-size="24" textLength="50.2" lengthAdjust="spacingAndGlyphs" fill="#000">AST</text>
<line x1="1699.1" y1="861.3" x2="1719.9" y2="861.3" stroke="#e2561a" stroke-width="2" stroke-linecap="butt"/>
<polygon points="1709.3,854.2 1716,860.9 1709.3,867.6 1702.6,860.9" fill="#f2701e"/>
<text x="1724.5" y="869" font-size="24" textLength="44.5" lengthAdjust="spacingAndGlyphs" fill="#000">ALT</text>
<text x="1905.8" y="1052.75" font-size="24.5" font-weight="bold" text-anchor="middle" textLength="165.9" lengthAdjust="spacingAndGlyphs" transform="rotate(90 1905.8 1052.75)" fill="#000">ALT/AST (U/L)</text>
<text x="32.5" y="1055.5" font-size="24" font-weight="bold" text-anchor="middle" textLength="324.2" lengthAdjust="spacingAndGlyphs" transform="rotate(-90 32.5 1055.5)" fill="#000">IFN-γ ELISpot (SFU/Million)</text>
<text x="1008.7" y="1055.45" font-size="24" font-weight="bold" text-anchor="middle" textLength="322.3" lengthAdjust="spacingAndGlyphs" transform="rotate(-90 1008.7 1055.45)" fill="#000">IFN-γ ELISpot (SFU/Million)</text>
</svg>
</body></html>
